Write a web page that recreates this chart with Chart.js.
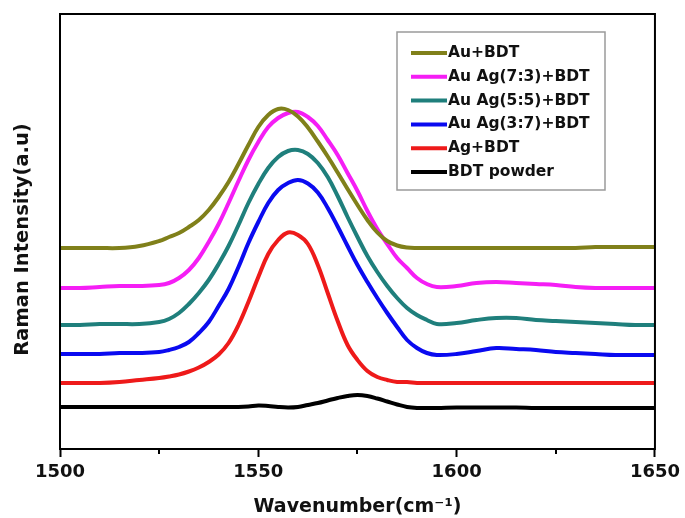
<!DOCTYPE html>
<html>
<head>
<meta charset="utf-8">
<script src="https://cdn.jsdelivr.net/npm/chart.js@4.4.0/dist/chart.umd.min.js"></script>
<style>
  html, body { margin: 0; padding: 0; background: #ffffff; }
  #wrap { width: 685px; height: 518px; }
</style>
</head>
<body>
<div id="wrap"><canvas id="raman" width="685" height="518"></canvas></div>
<script>
// Raman shift axis (cm^-1), shared by every spectrum
const wavenumbers = [1500, 1505, 1510, 1515, 1520, 1525,
  1527.5, 1530, 1532.5, 1535, 1537.5, 1540, 1542.5, 1545, 1547.5, 1550,
  1552.5, 1555, 1557.5, 1560, 1562.5, 1565, 1567.5, 1570, 1572.5, 1575,
  1577.5, 1580, 1582.5, 1585, 1587.5, 1590, 1592.5, 1595,
  1600, 1605, 1610, 1615, 1620, 1625, 1630, 1635, 1640, 1645, 1650];

// Intensities (a.u., spectra offset vertically for clarity)
const auBDT = [2010, 2010, 2010, 2010, 2030, 2080,
  2120, 2160, 2220, 2290, 2390, 2520, 2670, 2850, 3040, 3220,
  3340, 3400, 3390, 3325, 3215, 3075, 2925, 2765, 2600, 2440,
  2290, 2165, 2080, 2035, 2015, 2010, 2010, 2010,
  2010, 2010, 2010, 2010, 2010, 2010, 2010, 2020, 2020, 2020, 2020];
const auAg73BDT = [1610, 1610, 1620, 1630, 1630, 1640,
  1660, 1710, 1790, 1910, 2070, 2250, 2460, 2680, 2890, 3070,
  3220, 3310, 3360, 3370, 3320, 3230, 3090, 2940, 2760, 2580,
  2380, 2200, 2050, 1910, 1810, 1710, 1650, 1620,
  1630, 1660, 1670, 1660, 1650, 1640, 1620, 1610, 1610, 1610, 1610];
const auAg55BDT = [1240, 1240, 1250, 1250, 1250, 1270,
  1300, 1360, 1450, 1560, 1690, 1850, 2030, 2240, 2460, 2650,
  2810, 2920, 2980, 2990, 2950, 2860, 2720, 2530, 2320, 2120,
  1930, 1770, 1630, 1510, 1410, 1340, 1290, 1250,
  1260, 1290, 1310, 1310, 1290, 1280, 1270, 1260, 1250, 1240, 1240];
const auAg37BDT = [950, 950, 950, 960, 960, 970,
  990, 1020, 1070, 1160, 1270, 1430, 1600, 1820, 2060, 2270,
  2460, 2590, 2660, 2690, 2655, 2565, 2410, 2225, 2030, 1840,
  1670, 1510, 1360, 1220, 1090, 1010, 960, 940,
  950, 980, 1010, 1000, 990, 970, 960, 950, 940, 940, 940];
const agBDT = [660, 660, 660, 670, 690, 710,
  725, 745, 775, 815, 870, 945, 1060, 1240, 1470, 1720,
  1950, 2090, 2165, 2140, 2050, 1840, 1560, 1280, 1040, 890,
  780, 720, 690, 670, 670, 660, 660, 660,
  660, 660, 660, 660, 660, 660, 660, 660, 660, 660, 660];
const bdtPowder = [420, 420, 420, 420, 420, 420,
  420, 420, 420, 420, 420, 420, 420, 420, 425, 435,
  430, 420, 415, 420, 440, 460, 485, 510, 530, 540,
  530, 505, 475, 445, 420, 410, 410, 410,
  415, 415, 415, 415, 410, 410, 410, 410, 410, 410, 410];

const seriesLabels = ['Au+BDT', 'Au Ag(7:3)+BDT', 'Au Ag(5:5)+BDT', 'Au Ag(3:7)+BDT', 'Ag+BDT', 'BDT powder'];
const seriesValues = [auBDT, auAg73BDT, auAg55BDT, auAg37BDT, agBDT, bdtPowder];
const seriesColors = ['#80801a', '#f51ef5', '#1f7f7c', '#0a0af0', '#ee1a1a', '#000000'];

const majorTicks = [1500, 1550, 1600, 1650];
const minorTicks = [1525, 1575, 1625];
const yTitle = 'Raman Intensity(a.u)';

const FONT = 'DejaVu Sans';
Chart.defaults.font.family = FONT;
Chart.defaults.color = '#111';

// Closed frame around the plotting area, short minor ticks and the y title
const framePlugin = {
  id: 'frame',
  afterDatasetsDraw(chart) {
    const { ctx, chartArea: a, scales } = chart;
    ctx.save();
    ctx.strokeStyle = '#000';
    ctx.lineWidth = 2;
    ctx.strokeRect(a.left, a.top, a.right - a.left, a.bottom - a.top);
    ctx.beginPath();
    minorTicks.forEach(v => {
      const px = Math.round(scales.x.getPixelForValue(v));
      ctx.moveTo(px, a.bottom);
      ctx.lineTo(px, a.bottom + 5);
    });
    ctx.stroke();
    ctx.translate(a.left - 37, (a.top + a.bottom) / 2 + 8);
    ctx.rotate(-Math.PI / 2);
    ctx.font = 'bold 19.5px "' + FONT + '"';
    ctx.fillStyle = '#111';
    ctx.textAlign = 'center';
    ctx.textBaseline = 'middle';
    ctx.fillText(yTitle, 0, 0);
    ctx.restore();
  }
};

// Boxed legend in the upper right of the plot
const boxLegend = {
  id: 'boxLegend',
  afterDraw(chart) {
    const { ctx, chartArea: a } = chart;
    const left = a.left + 337, top = a.top + 18, w = 208, h = 158;
    const rowGap = 23.8;
    ctx.save();
    ctx.fillStyle = '#fff';
    ctx.fillRect(left, top, w, h);
    ctx.strokeStyle = '#9a9a9a';
    ctx.lineWidth = 1.5;
    ctx.strokeRect(left, top, w, h);
    ctx.font = 'bold 15.5px "' + FONT + '"';
    ctx.textBaseline = 'middle';
    chart.data.datasets.forEach((ds, i) => {
      const y = top + 21 + i * rowGap;
      ctx.strokeStyle = ds.borderColor;
      ctx.lineWidth = 4;
      ctx.beginPath();
      ctx.moveTo(left + 14, y);
      ctx.lineTo(left + 50, y);
      ctx.stroke();
      ctx.fillStyle = '#111';
      ctx.fillText(ds.label, left + 51, y);
    });
    ctx.restore();
  }
};

new Chart(document.getElementById('raman'), {
  type: 'line',
  data: {
    datasets: seriesLabels.map((label, i) => ({
      label,
      data: wavenumbers.map((w, j) => ({ x: w, y: seriesValues[i][j] })),
      borderColor: seriesColors[i],
      borderWidth: 4,
      pointRadius: 0,
      fill: false,
      tension: 0.4
    }))
  },
  options: {
    responsive: false,
    animation: false,
    devicePixelRatio: 1,
    layout: { padding: { top: 14, right: 28, left: 0, bottom: 0 } },
    plugins: { legend: { display: false }, tooltip: { enabled: false } },
    scales: {
      x: {
        type: 'linear',
        min: 1500,
        max: 1650,
        afterBuildTicks: s => { s.ticks = majorTicks.map(v => ({ value: v })); },
        afterFit: s => { s.height = 69; },
        ticks: {
          autoSkip: false,
          maxRotation: 0,
          padding: 5,
          color: '#111',
          font: { size: 18, weight: 'bold' },
          callback: v => String(v)
        },
        grid: {
          display: true,
          drawOnChartArea: false,
          drawTicks: true,
          tickLength: 8,
          tickWidth: 2,
          tickColor: '#000'
        },
        border: { display: false },
        title: {
          display: true,
          text: 'Wavenumber(cm\u207B\u00B9)',
          color: '#111',
          font: { size: 19, weight: 'bold' },
          padding: { top: 0, bottom: 0 }
        }
      },
      y: {
        min: 0,
        max: 4350,
        afterFit: s => { s.width = 60; },
        ticks: { display: false },
        grid: { display: false },
        border: { display: false },
        title: { display: false }
      }
    }
  },
  plugins: [framePlugin, boxLegend]
});
</script>
</body>
</html>
